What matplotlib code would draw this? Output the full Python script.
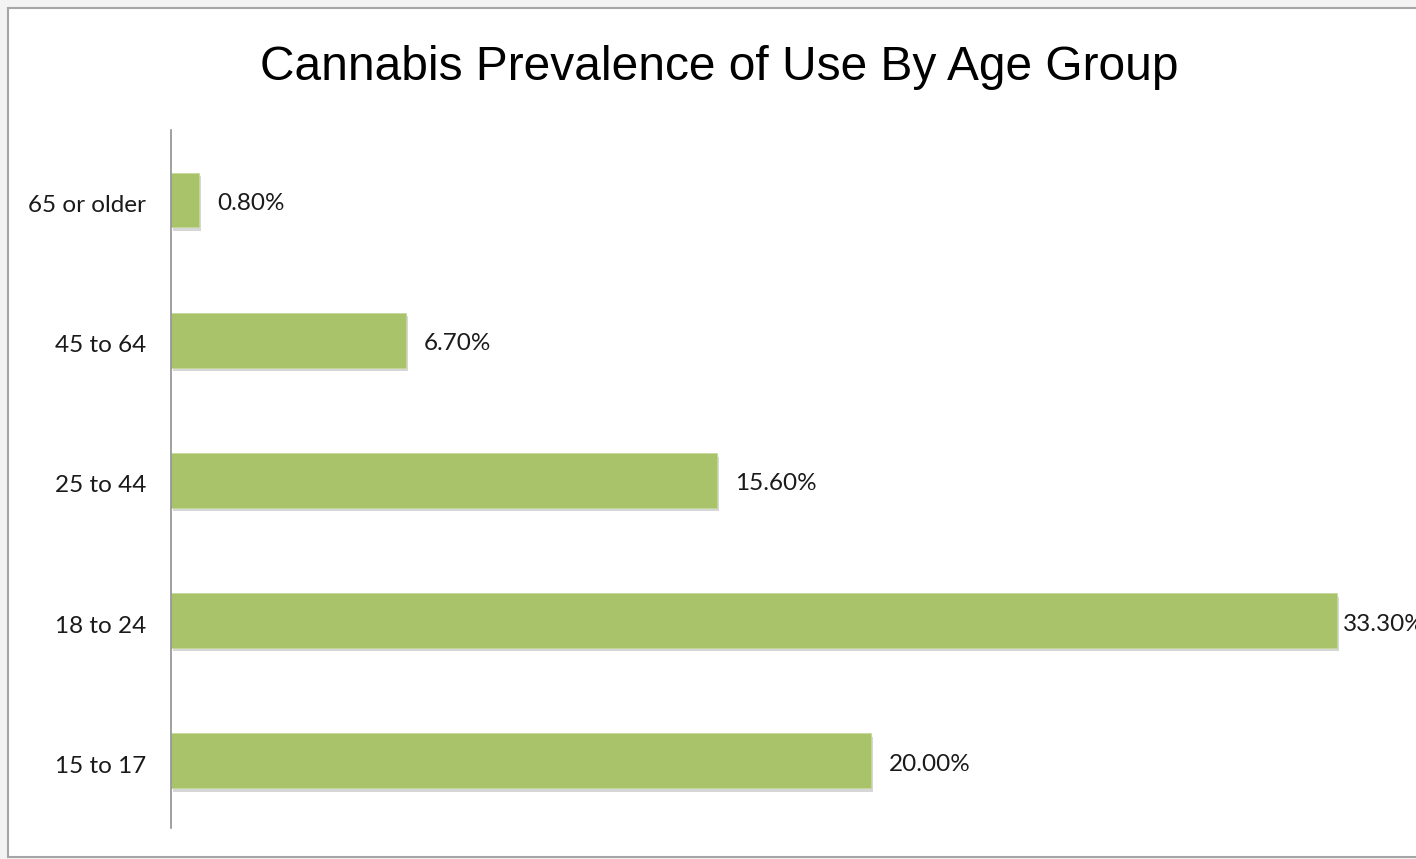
import matplotlib.pyplot as plt
import matplotlib.patheffects as pe
from matplotlib.patches import Rectangle
from matplotlib.transforms import ScaledTranslation

age_groups = ["15 to 17", "18 to 24", "25 to 44", "45 to 64", "65 or older"]
prevalence = [20.0, 33.3, 15.6, 6.7, 0.8]

W, H = 1416, 859
fig = plt.figure(figsize=(W / 100, H / 100), dpi=100, facecolor="#F3F3F3")

# white chart area with grey frame
fig.patches.append(Rectangle((8 / W, 2 / H), 1.2, (849 / H), transform=fig.transFigure,
                             facecolor="white", edgecolor="#A5A5A5", linewidth=1.5, zorder=-5))

ax = fig.add_axes([171 / W, 31 / H, 1225 / W, 698 / H])
ax.set_zorder(2)
ax.set_facecolor("none")

bars = ax.barh(range(len(age_groups)), prevalence, height=0.39, color="#A9C36B",
               edgecolor="#C4D89A", linewidth=0.6, zorder=2)
for b in bars:
    b.set_path_effects([pe.SimplePatchShadow(offset=(1.5, -2.5), shadow_rgbFace="#9A9A9A", alpha=0.4),
                        pe.Normal()])

xmax = 35
for i, v in enumerate(prevalence):
    # label gets squeezed against the bar when it runs out of room
    dx = 13 if v < 30 else 4.5
    ax.annotate("{:.2f}%".format(v), (v, i), xytext=(dx, -2.5), textcoords="offset points",
                va="center", ha="left", fontsize=17.5, family="Lato", color="#1A1A1A",
                annotation_clip=False)

ax.set_xlim(0, xmax)
ax.set_ylim(-0.48, 4.5)
ax.set_yticks(range(len(age_groups)))
ax.set_yticklabels(age_groups, fontsize=17.5, family="Lato", color="#1A1A1A")
ax.tick_params(axis="y", length=0, pad=18)
shift = ScaledTranslation(0, -2.5 / 72, fig.dpi_scale_trans)
for lab in ax.get_yticklabels():
    lab.set_transform(lab.get_transform() + shift)
ax.set_xticks([])
for s in ["top", "right", "bottom"]:
    ax.spines[s].set_visible(False)
ax.spines["left"].set_color("#909090")
ax.spines["left"].set_linewidth(1.2)

fig.text(719 / W, 1 - 68 / H, "Cannabis Prevalence of Use By Age Group", ha="center", va="center",
         fontsize=34.5, family="Liberation Sans", color="black")

fig.savefig("out.png", dpi=100, facecolor=fig.get_facecolor())
